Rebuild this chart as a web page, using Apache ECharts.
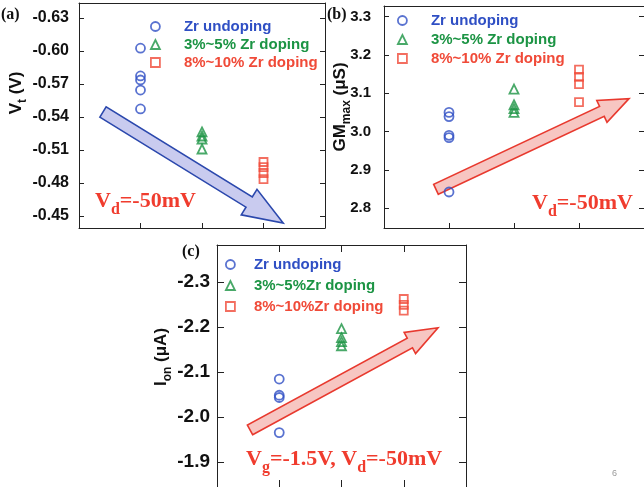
<!DOCTYPE html>
<html>
<head>
<meta charset="utf-8">
<script src="https://cdn.jsdelivr.net/npm/echarts@6/dist/echarts.min.js"></script>
<style>
html,body{margin:0;padding:0;background:#fff;}
#c{width:644px;height:487px;}
</style>
</head>
<body>
<div id="c"></div>
<script>
// ---- data ----
const xPos = [1, 2, 3];               // group positions: undoped, 3~5%, 8~10%
const seriesNamesAB = ['Zr undoping', '3%~5% Zr doping', '8%~10% Zr doping'];
const seriesNamesC = ['Zr undoping', '3%~5%Zr doping', '8%~10%Zr doping'];

const vtUndoped = [-0.6025, -0.5773, -0.5736, -0.5645, -0.5473];
const vtLow     = [-0.5264, -0.5227, -0.5200, -0.5109];
const vtHigh    = [-0.4991, -0.4945, -0.4891, -0.4836];

const gmUndoped = [3.050, 3.039, 2.990, 2.984, 2.842];
const gmLow     = [3.111, 3.070, 3.060, 3.050];
const gmHigh    = [3.162, 3.143, 3.124, 3.077];

const ionUndoped = [-2.084, -2.048, -2.043, -1.965];
const ionLow     = [-2.196, -2.176, -2.167, -2.158];
const ionHigh    = [-2.262, -2.249, -2.236];

const vtTicks  = [-0.63, -0.60, -0.57, -0.54, -0.51, -0.48, -0.45];
const gmTicks  = [2.8, 2.9, 3.0, 3.1, 3.2, 3.3];
const ionTicks = [-2.3, -2.2, -2.1, -2.0, -1.9];

// ---- style ----
const BLUE = '#2f4fc4', GREEN = '#1c9444', RED = '#f04a38';
const colors = [BLUE, GREEN, RED];
const symbols = ['circle', 'triangle', 'rect'];
const symSizes = [9, 9, 8];
const AX = '#222';
const SANS = 'Liberation Sans, Arial, sans-serif';
const SERIF = 'Liberation Serif, Times New Roman, serif';

const chart = echarts.init(document.getElementById('c'), null, {renderer: 'canvas'});

const grids = [
  {left: 79, top: 3, width: 246, height: 225},
  {left: 384, top: 6, width: 261, height: 222},
  {left: 217, top: 245, width: 249, height: 243}
];
const yRanges = [
  {min: -0.6436, max: -0.4391, ticks: vtTicks, dec: 2, inverse: true, fs: 16, margin: 10},
  {min: 2.748, max: 3.328, ticks: gmTicks, dec: 1, inverse: false, fs: 15, margin: 13},
  {min: -2.382, max: -1.844, ticks: ionTicks, dec: 1, inverse: true, fs: 19, margin: 7}
];
const tickLens = [5, 5, 7];
const topTicks = [false, false, true];

const xAxes = [], yAxes = [];
grids.forEach((g, gi) => {
  const ls = {color: AX, width: 1};
  xAxes.push({gridIndex: gi, type: 'value', min: 0, max: 4, position: 'bottom',
    axisLine: {show: true, onZero: false, lineStyle: ls},
    axisTick: {show: true, inside: true, length: tickLens[gi], customValues: xPos, lineStyle: ls},
    axisLabel: {show: false}, splitLine: {show: false}});
  xAxes.push({gridIndex: gi, type: 'value', min: 0, max: 4, position: 'top',
    axisLine: {show: true, onZero: false, lineStyle: ls},
    axisTick: {show: topTicks[gi], inside: true, length: tickLens[gi], customValues: xPos, lineStyle: ls},
    axisLabel: {show: false}, splitLine: {show: false}});
  const r = yRanges[gi];
  yAxes.push({gridIndex: gi, type: 'value', min: r.min, max: r.max, inverse: r.inverse, position: 'left',
    axisLine: {show: true, onZero: false, lineStyle: ls},
    axisTick: {show: true, inside: true, length: tickLens[gi], customValues: r.ticks, lineStyle: ls},
    axisLabel: {show: true, customValues: r.ticks, formatter: v => v.toFixed(r.dec),
      fontFamily: SANS, fontWeight: 'bold', fontSize: r.fs, color: '#111', margin: r.margin},
    splitLine: {show: false}});
  yAxes.push({gridIndex: gi, type: 'value', min: r.min, max: r.max, inverse: r.inverse, position: 'right',
    axisLine: {show: true, onZero: false, lineStyle: ls},
    axisTick: {show: true, inside: true, length: tickLens[gi], customValues: r.ticks, lineStyle: ls},
    axisLabel: {show: false}, splitLine: {show: false}});
});

const panelData = [
  [vtUndoped, vtLow, vtHigh],
  [gmUndoped, gmLow, gmHigh],
  [ionUndoped, ionLow, ionHigh]
];
const series = [];
panelData.forEach((groups, gi) => {
  const names = gi === 2 ? seriesNamesC : seriesNamesAB;
  groups.forEach((vals, k) => {
    series.push({
      type: 'scatter', name: names[k],
      xAxisIndex: gi * 2, yAxisIndex: gi * 2,
      symbol: symbols[k], symbolSize: symSizes[k],
      itemStyle: {color: 'rgba(255,255,255,0)', borderColor: colors[k], borderWidth: 1.8},
      emphasis: {disabled: true},
      data: vals.map(v => [xPos[k], v])
    });
  });
});

function legendFor(names, left, top, pad, gap, fs) {
  return {
    orient: 'vertical', left: left, top: top, itemWidth: 9, itemHeight: 9, itemGap: gap,
    selectedMode: false, padding: 0,
    data: names.map((n, k) => ({name: n, icon: symbols[k],
      itemStyle: {color: 'rgba(255,255,255,0)', borderColor: colors[k], borderWidth: 1.8},
      textStyle: {color: colors[k], fontFamily: SANS, fontWeight: 'bold', fontSize: fs, padding: [0, 0, 0, pad]}}))
  };
}

const legends = [
  legendFor(seriesNamesAB, 150, 19, 19, 3, 15),
  legendFor(seriesNamesAB, 397, 13, 19, 4, 15),
  legendFor(seriesNamesC, 225, 257, 14, 6, 15)
];

chart.setOption({
  animation: false,
  backgroundColor: '#ffffff',
  grid: grids.map(g => Object.assign({containLabel: false}, g)),
  xAxis: xAxes, yAxis: yAxes,
  legend: legends,
  series: series
});

// ---- annotations (arrows anchored in data coordinates) ----
function arrowPts(p0, p1, sw, hl, hw) {
  const dx = p1[0] - p0[0], dy = p1[1] - p0[1];
  const L = Math.hypot(dx, dy), ux = dx / L, uy = dy / L, nx = -uy, ny = ux;
  const bx = p1[0] - ux * hl, by = p1[1] - uy * hl;
  return [
    [p0[0] + nx * sw, p0[1] + ny * sw], [bx + nx * sw, by + ny * sw], [bx + nx * hw, by + ny * hw],
    [p1[0], p1[1]],
    [bx - nx * hw, by - ny * hw], [bx - nx * sw, by - ny * sw], [p0[0] - nx * sw, p0[1] - ny * sw]
  ];
}
const arrowSpecs = [
  {gi: 0, from: [0.39, -0.5445], to: [3.32, -0.4436], sw: 6, hl: 40, hw: 15, fill: '#c9cbef', stroke: '#2b48ad'},
  {gi: 1, from: [0.80, 2.849], to: [3.77, 3.086], sw: 5.5, hl: 30, hw: 12, fill: '#f7c6c2', stroke: '#e8392e'},
  {gi: 2, from: [0.53, -1.971], to: [3.55, -2.198], sw: 5.5, hl: 32, hw: 12, fill: '#f7c6c2', stroke: '#e8392e'}
];
const graphics = arrowSpecs.map(a => {
  const f = {xAxisIndex: a.gi * 2, yAxisIndex: a.gi * 2};
  const p0 = chart.convertToPixel(f, a.from), p1 = chart.convertToPixel(f, a.to);
  return {type: 'polygon', z: 1, shape: {points: arrowPts(p0, p1, a.sw, a.hl, a.hw)},
    style: {fill: a.fill, stroke: a.stroke, lineWidth: 1.6}};
});

const vRich = {
  v: {fontFamily: SERIF, fontWeight: 'bold', fontSize: 22, lineHeight: 24, verticalAlign: 'top', fill: '#f03c2e', color: '#f03c2e'},
  s: {fontFamily: SERIF, fontWeight: 'bold', fontSize: 16, lineHeight: 16, padding: [12, 0, 0, 0], verticalAlign: 'top', fill: '#f03c2e', color: '#f03c2e'}
};
function vText(txt, x, y) {
  return {type: 'text', x: x, y: y, z: 10, style: {text: txt, rich: vRich, fill: '#f03c2e'}};
}
graphics.push(vText('{v|V}{s|d}{v|=-50mV}', 95, 190));
graphics.push(vText('{v|V}{s|d}{v|=-50mV}', 532, 192));
graphics.push(vText('{v|V}{s|g}{v|=-1.5V, V}{s|d}{v|=-50mV}', 246, 448));

function label(txt, x, y, size) {
  return {type: 'text', x: x, y: y, z: 10, style: {text: txt, fontFamily: SERIF, fontWeight: 'bold', fontSize: size, fill: '#111', align: 'left', verticalAlign: 'middle'}};
}
graphics.push(label('(a)', 1, 15, 16));
graphics.push(label('(b)', 327, 15, 16));
graphics.push(label('(c)', 182, 252, 16));

const tRich = {
  b: {fontFamily: SANS, fontWeight: 'bold', fontSize: 17, fill: '#111', verticalAlign: 'top', lineHeight: 20},
  s: {fontFamily: SANS, fontWeight: 'bold', fontSize: 12, fill: '#111', verticalAlign: 'top', lineHeight: 12, padding: [9, 0, 0, 0]}
};
function yTitle(txt, x, y) {
  return {type: 'text', x: x, y: y, rotation: Math.PI / 2, z: 10,
    style: {text: txt, rich: tRich, align: 'center', verticalAlign: 'middle'}};
}
graphics.push(yTitle('{b|V}{s|t}{b| (V)}', 18, 93));
graphics.push(yTitle('{b|GM}{s|max}{b| (μS)}', 342, 107));
graphics.push(yTitle('{b|I}{s|on}{b| (μA)}', 163, 357));

graphics.push({type: 'text', x: 612, y: 469, style: {text: '6', fontFamily: SANS, fontSize: 9, fill: '#999'}});

chart.setOption({graphic: graphics});
</script>
</body>
</html>
